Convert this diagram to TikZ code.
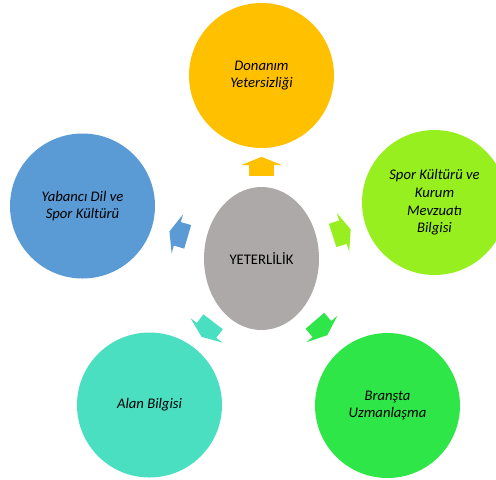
\documentclass[tikz,border=0pt]{standalone}
\usepackage{fontspec}
\setmainfont{Carlito}
\usetikzlibrary{shapes.geometric,shapes.arrows}
\definecolor{ortarenk}{HTML}{AEA9A9}
\definecolor{donanimrenk}{HTML}{FFC000}
\definecolor{sporrenk}{HTML}{97EF1F}
\definecolor{bransrenk}{HTML}{2EE648}
\definecolor{alanrenk}{HTML}{4ADFC1}
\definecolor{yabancirenk}{HTML}{5B9BD5}
\tikzset{
  daire/.style={circle, fill=#1, minimum size=108.75pt, inner sep=0pt, align=center, font=\fontsize{11}{13.3}\selectfont\itshape},
  okbas/.style={single arrow, fill=#1, minimum height=14.25pt, single arrow head extend=6pt, single arrow tip angle=136, inner xsep=0pt, inner ysep=9pt, sloped, allow upside down}
}
\begin{document}
\begin{tikzpicture}[x=0.75pt,y=-0.75pt]
\useasboundingbox (0,0) rectangle (496,479);
\node[ellipse, fill=ortarenk, minimum width=86.25pt, minimum height=107.25pt, font=\fontsize{11}{13.3}\selectfont] (yeter) at (261.5,258.5) {YETERLİLİK};
\node[daire=donanimrenk] (donanim) at (261.5,75.5) {Donanım\\Yetersizliği};
\node[daire=sporrenk] (spor) at (434.5,202.5) {Spor Kültürü ve\\Kurum\\Mevzuatı\\Bilgisi};
\node[daire=bransrenk] (brans) at (387.5,405.5) {Branşta\\Uzmanlaşma};
\node[daire=alanrenk] (alan) at (149.5,405) {Alan Bilgisi};
\node[daire=yabancirenk] (yabanci) at (82.5,206) {Yabancı Dil ve\\Spor Kültürü};
\path (yeter.center) -- node[okbas=donanimrenk, pos=.49] {} (donanim.center);
\path (yeter.center) -- node[okbas=sporrenk, pos=.45] {} (spor.center);
\path (yeter.center) -- node[okbas=bransrenk, pos=.46] {} (brans.center);
\path (yeter.center) -- node[okbas=alanrenk, pos=.47] {} (alan.center);
\path (yeter.center) -- node[okbas=yabancirenk, pos=.45] {} (yabanci.center);
\end{tikzpicture}
\end{document}
